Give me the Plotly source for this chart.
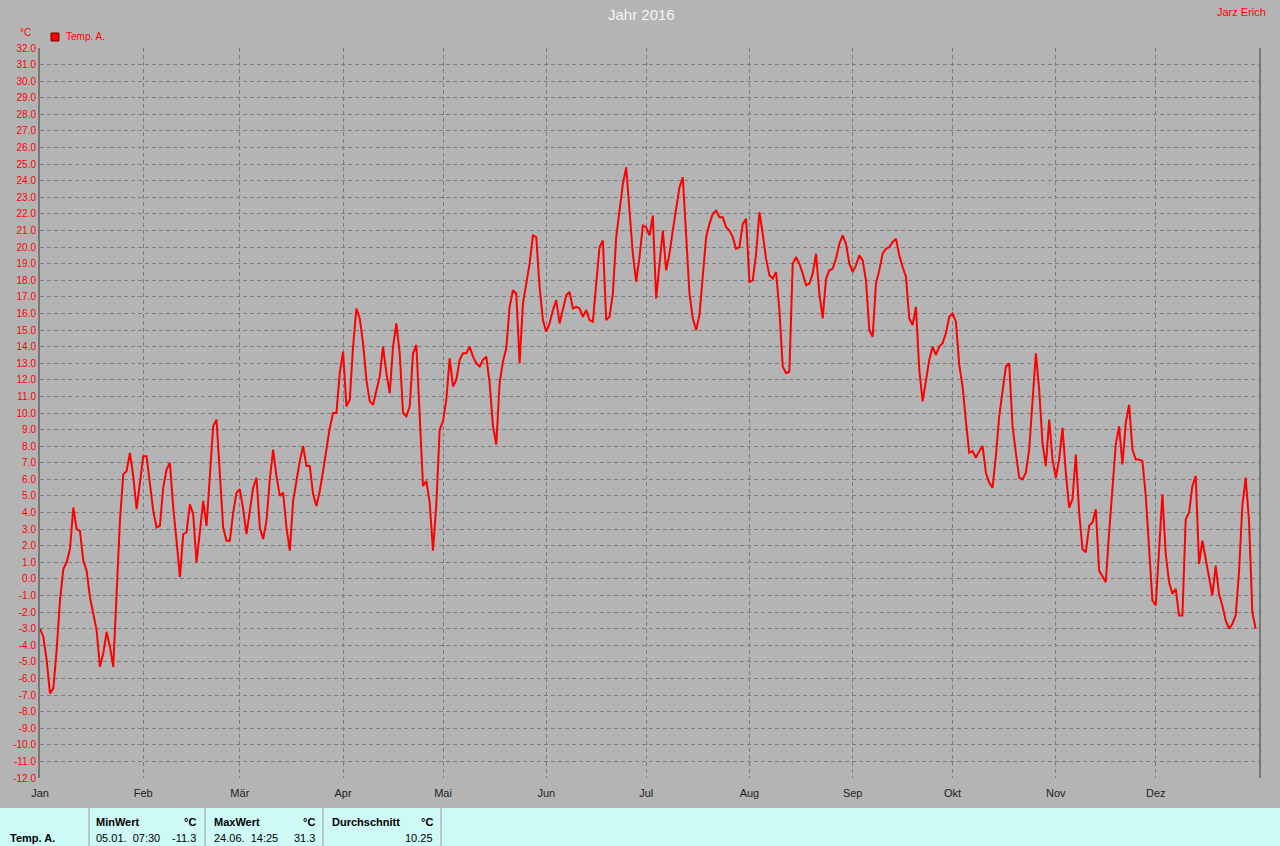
import pandas as pd
import plotly.graph_objects as go

# ---- data: daily mean outside temperature 2016 (°C) ----
jan = [-3.0, -3.5, -4.9, -6.9, -6.6, -4.3, -1.3, 0.6, 1.0, 1.8, 4.3, 3.0, 2.9, 1.1, 0.5, -1.1,
       -2.1, -3.1, -5.3, -4.5, -3.2, -4.1, -5.3, -0.5, 3.5, 6.3, 6.5, 7.6, 6.2, 4.2, 5.9]
feb = [7.4, 7.4, 5.8, 4.1, 3.1, 3.2, 5.5, 6.6, 7.0, 4.3, 2.3, 0.1, 2.7, 2.8, 4.5, 3.9, 1.0,
       2.9, 4.7, 3.2, 6.3, 9.2, 9.6, 6.2, 3.1, 2.3, 2.3, 4.0, 5.2]
mar = [5.4, 4.2, 2.7, 4.1, 5.5, 6.1, 3.1, 2.4, 3.5, 6.0, 7.8, 6.2, 5.0, 5.2, 3.1, 1.7, 4.7,
       5.9, 7.1, 8.0, 6.8, 6.8, 5.1, 4.4, 5.3, 6.5, 7.9, 9.1, 10.0, 10.0, 12.4]
apr = [13.7, 10.4, 10.8, 14.0, 16.3, 15.7, 14.2, 12.0, 10.7, 10.5, 11.3, 12.2, 14.0, 12.4,
       11.2, 14.0, 15.4, 13.6, 10.0, 9.8, 10.4, 13.6, 14.1, 9.8, 5.6, 5.9, 4.6, 1.7, 4.5, 9.0]
mai = [9.5, 10.8, 13.3, 11.6, 12.0, 13.2, 13.6, 13.6, 14.0, 13.4, 13.0, 12.8, 13.2, 13.4,
       11.8, 9.2, 8.1, 11.8, 13.1, 13.9, 16.4, 17.4, 17.2, 13.0, 16.6, 17.8, 19.0, 20.7, 20.6,
       17.6, 15.6]
jun = [14.9, 15.4, 16.2, 16.8, 15.4, 16.2, 17.1, 17.3, 16.3, 16.4, 16.3, 15.8, 16.2, 15.6,
       15.5, 17.8, 20.0, 20.4, 15.6, 15.8, 17.2, 20.6, 22.3, 23.8, 24.8, 21.9, 19.6, 17.9,
       19.4, 21.3]
jul = [21.2, 20.7, 21.9, 16.9, 19.2, 21.0, 18.6, 19.6, 21.0, 22.4, 23.6, 24.2, 20.4, 17.2,
       15.7, 15.0, 15.9, 18.4, 20.6, 21.4, 22.0, 22.2, 21.8, 21.8, 21.2, 21.0, 20.6, 19.9,
       20.0, 21.4, 21.7]
aug = [17.9, 18.0, 19.6, 22.1, 20.8, 19.3, 18.3, 18.1, 18.5, 16.2, 12.8, 12.4, 12.5, 19.0,
       19.4, 19.0, 18.4, 17.7, 17.8, 18.4, 19.6, 17.2, 15.7, 18.1, 18.6, 18.7, 19.3, 20.2,
       20.7, 20.2, 19.0]
sep = [18.5, 18.9, 19.5, 19.2, 18.0, 15.0, 14.6, 17.8, 18.6, 19.6, 19.9, 20.0, 20.3, 20.5,
       19.5, 18.8, 18.2, 15.7, 15.3, 16.4, 12.6, 10.7, 12.1, 13.2, 14.0, 13.5, 14.0, 14.2,
       14.8, 15.8]
okt = [16.0, 15.5, 12.9, 11.6, 9.5, 7.6, 7.7, 7.3, 7.7, 8.0, 6.4, 5.8, 5.5, 7.4, 9.8, 11.4,
       12.8, 13.0, 9.2, 7.6, 6.1, 6.0, 6.4, 7.8, 10.8, 13.6, 11.4, 8.2, 6.8, 9.6, 7.2]
nov = [6.1, 7.2, 9.1, 6.4, 4.3, 4.8, 7.5, 4.0, 1.8, 1.6, 3.2, 3.4, 4.2, 0.5, 0.1, -0.2, 2.8,
       5.4, 8.1, 9.2, 6.9, 9.4, 10.5, 7.8, 7.2, 7.2, 7.1, 5.0, 1.7, -1.3]
dez = [-1.6, 2.1, 5.1, 1.5, -0.2, -0.9, -0.6, -2.2, -2.2, 3.6, 4.0, 5.6, 6.2, 0.9, 2.3, 1.2,
       0.0, -1.0, 0.8, -0.9, -1.6, -2.5, -3.0, -2.7, -2.2, 0.4, 4.4, 6.1, 3.5, -2.0, -3.0]

month_labels = ["Jan", "Feb", "Mär", "Apr", "Mai", "Jun", "Jul", "Aug", "Sep", "Okt", "Nov", "Dez"]
y_ticks = list(range(-12, 33))
series_name = "Temp. A."
title_text = "Jahr 2016"
author = "Jarz Erich"
stat_headers = ["MinWert", "MaxWert", "Durchschnitt"]
stat_times = ["05.01.\u00a0\u00a007:30", "24.06.\u00a0\u00a014:25", ""]
stat_values = ["-11.3", "31.3", "10.25"]

temps = jan + feb + mar + apr + mai + jun + jul + aug + sep + okt + nov + dez
dates = pd.date_range("2016-01-01", periods=len(temps), freq="D")
month_starts = pd.date_range("2016-01-01", periods=12, freq="MS")

# ---- layout helpers (pixel -> paper) ----
W, H = 1280, 846
L, R, T, B = 40, 21, 48, 68
PW, PH = W - L - R, H - T - B


def xp(x):
    return (x - L) / PW


def yp(y):
    return (H - B - y) / PH


BG = "#B4B4B4"
RED = "#FF0000"
GRID = "#7E7E7E"
FONT = "Liberation Sans, Arial, sans-serif"

fig = go.Figure()
fig.add_trace(go.Scatter(x=dates, y=temps, mode="lines", name=series_name,
                         line=dict(color=RED, width=2), showlegend=False))

fig.update_layout(
    width=W, height=H,
    margin=dict(l=L, r=R, t=T, b=B, pad=0),
    paper_bgcolor=BG, plot_bgcolor=BG,
    font=dict(family=FONT, size=10, color="#000000"),
    xaxis=dict(
        type="date", range=["2016-01-01", "2017-01-01"],
        tickvals=list(month_starts), ticktext=month_labels,
        showgrid=True, gridcolor=GRID, griddash="4px,3px", gridwidth=1,
        showline=False, zeroline=False, ticks="", ticklen=0,
        ticklabelstandoff=7,
        tickfont=dict(family=FONT, size=11, color="#1E1E1E"),
        fixedrange=True,
    ),
    yaxis=dict(
        range=[-12, 32], tickvals=y_ticks,
        ticktext=[f"{v:.1f}" for v in y_ticks],
        showgrid=True, gridcolor=GRID, griddash="4px,3px", gridwidth=1,
        showline=True, mirror=True, linecolor="#777777", linewidth=2,
        zeroline=False, ticks="", ticklen=0,
        tickfont=dict(family=FONT, size=10, color=RED),
        fixedrange=True,
    ),
)

shapes = []
annotations = []

# footer band
shapes.append(dict(type="rect", xref="paper", yref="paper", x0=xp(0), x1=xp(W),
                   y0=yp(H), y1=yp(808), fillcolor="#CDF9F7", line=dict(width=0), layer="above"))
for sx in [89, 205, 323, 441]:
    shapes.append(dict(type="line", xref="paper", yref="paper", x0=xp(sx), x1=xp(sx),
                       y0=yp(H), y1=yp(808), line=dict(color="#9A9A9A", width=1), layer="above"))

# legend marker
shapes.append(dict(type="rect", xref="paper", yref="paper", x0=xp(51), x1=xp(59),
                   y0=yp(41), y1=yp(33), fillcolor=RED, line=dict(color="#800000", width=1)))


def ann(text, x, y, anchor="left", size=10, color="#000000", bold=False):
    if bold:
        text = f"<b>{text}</b>"
    annotations.append(dict(text=text, x=xp(x), y=yp(y), xref="paper", yref="paper",
                            xanchor=anchor, yanchor="middle", showarrow=False,
                            font=dict(family=FONT, size=size, color=color)))


ann(title_text, 641, 15, "center", 15, "#F4F4F4")
ann(author, 1268, 12, "right", 11, RED)
ann("°C", 25, 32, "center", 10, RED)
ann(series_name, 64, 37, "left", 10, RED)

# footer table
ann(series_name, 8, 838, "left", 11, "#000000", True)
col_left = [94, 212, 330]
col_right = [198, 317, 435]
for i in range(3):
    ann(stat_headers[i], col_left[i], 822, "left", 11, "#000000", True)
    ann("°C", col_right[i], 822, "right", 11, "#000000", True)
    if stat_times[i]:
        ann(stat_times[i], col_left[i], 838, "left", 11, "#000000")
    ann(stat_values[i], col_right[i], 838, "right", 11, "#000000")

fig.update_layout(shapes=shapes, annotations=annotations)

fig.write_html("out.html", config={"displayModeBar": False},
               post_script="document.body.style.margin='0';document.body.style.overflow='hidden';")
